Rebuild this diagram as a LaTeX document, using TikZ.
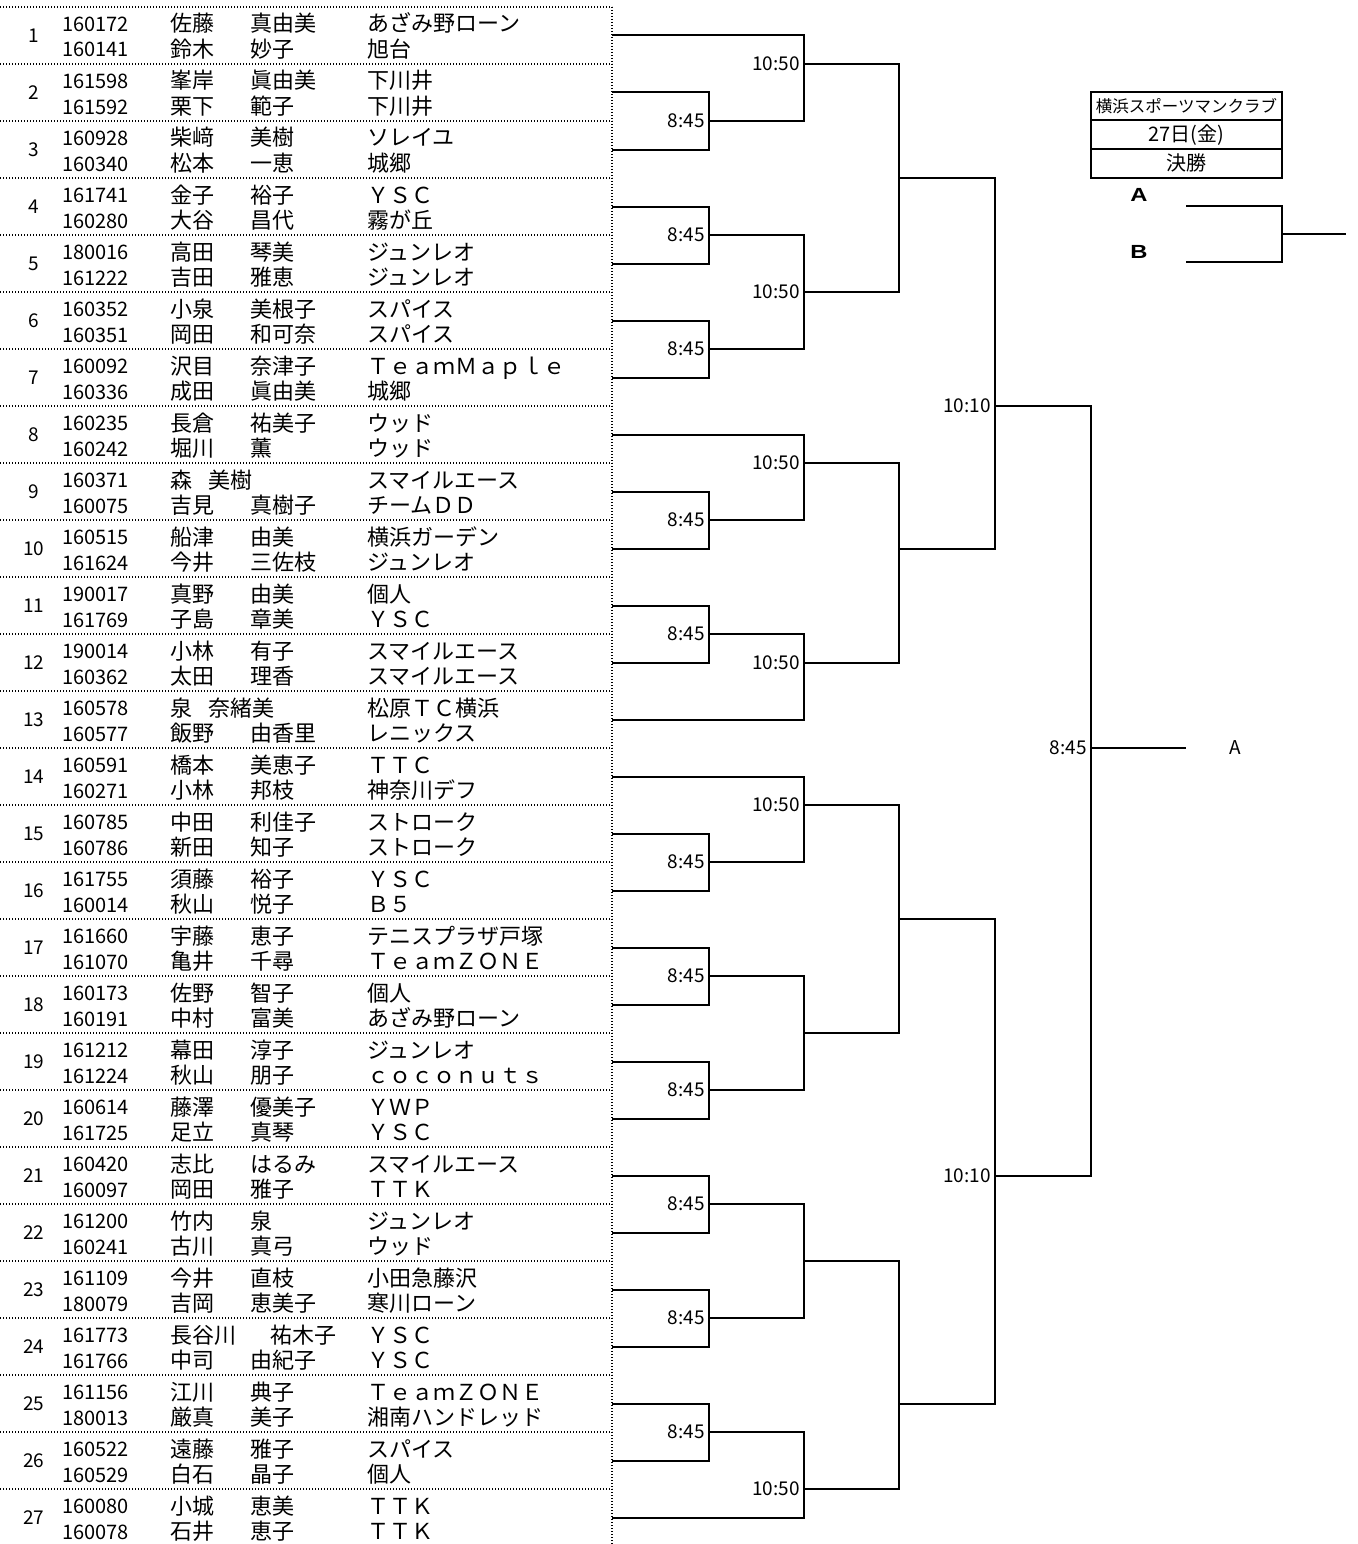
\documentclass[tikz,border=0pt]{standalone}
\usepackage{fontspec}
\setmainfont{Noto Sans CJK JP}
\newfontfamily\lsans{Liberation Sans}
\begin{document}
\begin{tikzpicture}[x=1pt,y=-1pt,
  txt/.style={anchor=base west,inner sep=0pt,font=\fontsize{22}{26}\selectfont},
  idtxt/.style={anchor=base west,inner sep=0pt,font=\fontsize{20}{24}\selectfont},
  numtxt/.style={anchor=center,inner sep=0pt,font=\fontsize{19}{22}\selectfont},
  tm/.style={anchor=east,inner sep=0pt,font=\fontsize{19}{22}\selectfont},
  br/.style={line width=2pt},
  dotline/.style={line width=1.2pt,dash pattern=on 1.2pt off 1.8pt},
  hbox/.style={draw,line width=2pt,minimum width=191pt,minimum height=28.5pt,inner sep=0pt,anchor=center},
  ab/.style={anchor=center,inner sep=0pt,font=\lsans\bfseries\fontsize{19}{22}\selectfont}
]
\useasboundingbox (0,0) rectangle (1357,1544);

% dotted grid
\foreach \j in {0,...,27}{
  \draw[dotline] (0,{7+57*\j}) -- (612,{7+57*\j});
}
\draw[dotline] (612,7) -- (612,1544);

% entries
\foreach \n/\ia/\fa/\ga/\gxa/\ca/\ib/\fb/\gb/\gxb/\cb in {
1/160172/佐藤/真由美/250/あざみ野ローン/160141/鈴木/妙子/250/旭台,
2/161598/峯岸/眞由美/250/下川井/161592/栗下/範子/250/下川井,
3/160928/柴﨑/美樹/250/ソレイユ/160340/松本/一恵/250/城郷,
4/161741/金子/裕子/250/ＹＳＣ/160280/大谷/昌代/250/霧が丘,
5/180016/高田/琴美/250/ジュンレオ/161222/吉田/雅恵/250/ジュンレオ,
6/160352/小泉/美根子/250/スパイス/160351/岡田/和可奈/250/スパイス,
7/160092/沢目/奈津子/250/ＴｅａｍＭａｐｌｅ/160336/成田/眞由美/250/城郷,
8/160235/長倉/祐美子/250/ウッド/160242/堀川/薫/250/ウッド,
9/160371/森/美樹/208/スマイルエース/160075/吉見/真樹子/250/チームＤＤ,
10/160515/船津/由美/250/横浜ガーデン/161624/今井/三佐枝/250/ジュンレオ,
11/190017/真野/由美/250/個人/161769/子島/章美/250/ＹＳＣ,
12/190014/小林/有子/250/スマイルエース/160362/太田/理香/250/スマイルエース,
13/160578/泉/奈緒美/208/松原ＴＣ横浜/160577/飯野/由香里/250/レニックス,
14/160591/橋本/美恵子/250/ＴＴＣ/160271/小林/邦枝/250/神奈川デフ,
15/160785/中田/利佳子/250/ストローク/160786/新田/知子/250/ストローク,
16/161755/須藤/裕子/250/ＹＳＣ/160014/秋山/悦子/250/Ｂ５,
17/161660/宇藤/恵子/250/テニスプラザ戸塚/161070/亀井/千尋/250/ＴｅａｍＺＯＮＥ,
18/160173/佐野/智子/250/個人/160191/中村/富美/250/あざみ野ローン,
19/161212/幕田/淳子/250/ジュンレオ/161224/秋山/朋子/250/ｃｏｃｏｎｕｔｓ,
20/160614/藤澤/優美子/250/ＹＷＰ/161725/足立/真琴/250/ＹＳＣ,
21/160420/志比/はるみ/250/スマイルエース/160097/岡田/雅子/250/ＴＴＫ,
22/161200/竹内/泉/250/ジュンレオ/160241/古川/真弓/250/ウッド,
23/161109/今井/直枝/250/小田急藤沢/180079/吉岡/恵美子/250/寒川ローン,
24/161773/長谷川/祐木子/270/ＹＳＣ/161766/中司/由紀子/250/ＹＳＣ,
25/161156/江川/典子/250/ＴｅａｍＺＯＮＥ/180013/厳真/美子/250/湘南ハンドレッド,
26/160522/遠藤/雅子/250/スパイス/160529/白石/晶子/250/個人,
27/160080/小城/恵美/250/ＴＴＫ/160078/石井/恵子/250/ＴＴＫ}
{
  \pgfmathsetmacro\T{7+(\n-1)*57}
  \node[numtxt] (no\n) at (33.7,{\T+28.5}) {\n};
  \node[idtxt] (ida\n) at (62,{\T+24.5}) {\ia};
  \node[txt] (fa\n) at (170,{\T+25}) {\fa};
  \node[txt] (ga\n) at (\gxa,{\T+25}) {\ga};
  \node[txt] (ca\n) at (367,{\T+25}) {\ca};
  \node[idtxt] (idb\n) at (62,{\T+50}) {\ib};
  \node[txt] (fb\n) at (170,{\T+50.5}) {\fb};
  \node[txt] (gb\n) at (\gxb,{\T+50.5}) {\gb};
  \node[txt] (cb\n) at (367,{\T+50.5}) {\cb};
}

% entry anchors
\foreach \n in {1,...,27} \coordinate (e\n) at (612,{7+(2*\n-1)*28.5});

% round 1
\foreach \a/\b in {2/3,4/5,6/7,9/10,11/12,15/16,17/18,19/20,21/22,23/24,25/26}{
  \coordinate (m\a) at (709,{7+2*\a*28.5});
  \draw[br] (e\a) -| (m\a);
  \draw[br] (e\b) -| (m\a);
  \node[tm] (tm\a) at ([xshift=-4pt]m\a) {8:45};
}

% round 2
\coordinate (r1) at (804,64);
\coordinate (r2) at (804,292);
\coordinate (r3) at (804,463);
\coordinate (r4) at (804,662.5);
\coordinate (r5) at (804,805);
\coordinate (r6) at (804,1033);
\coordinate (r7) at (804,1261);
\coordinate (r8) at (804,1489);
\draw[br] (e1) -| (r1);  \draw[br] (m2) -| (r1);
\draw[br] (m4) -| (r2);  \draw[br] (m6) -| (r2);
\draw[br] (e8) -| (r3);  \draw[br] (m9) -| (r3);
\draw[br] (m11) -| (r4); \draw[br] (e13) -| (r4);
\draw[br] (e14) -| (r5); \draw[br] (m15) -| (r5);
\draw[br] (m17) -| (r6); \draw[br] (m19) -| (r6);
\draw[br] (m21) -| (r7); \draw[br] (m23) -| (r7);
\draw[br] (m25) -| (r8); \draw[br] (e27) -| (r8);
\foreach \r in {1,2,3,4,5,8} \node[tm] (tr\r) at ([xshift=-4pt]r\r) {10:50};

% round 3
\coordinate (s1) at (899,178);
\coordinate (s2) at (899,548.5);
\coordinate (s3) at (899,919);
\coordinate (s4) at (899,1403.5);
\draw[br] (r1) -| (s1); \draw[br] (r2) -| (s1);
\draw[br] (r3) -| (s2); \draw[br] (r4) -| (s2);
\draw[br] (r5) -| (s3); \draw[br] (r6) -| (s3);
\draw[br] (r7) -| (s4); \draw[br] (r8) -| (s4);

% round 4
\coordinate (q1) at (995,406);
\coordinate (q2) at (995,1175.5);
\draw[br] (s1) -| (q1); \draw[br] (s2) -| (q1);
\draw[br] (s3) -| (q2); \draw[br] (s4) -| (q2);
\node[tm] (tq1) at ([xshift=-4pt]q1) {10:10};
\node[tm] (tq2) at ([xshift=-4pt]q2) {10:10};

% round 5
\coordinate (f) at (1091,748);
\coordinate (fe) at (1186,748);
\draw[br] (q1) -| (f); \draw[br] (q2) -| (f);
\draw[br] (f) -- (fe);
\node[tm] (tf) at ([xshift=-4pt]f) {8:45};
\node[numtxt] (wa) at (1235,748) {A};

% final box
\node[hbox,font=\fontsize{16.5}{18}\selectfont] (hb1) at (1186.5,106.25) {横浜スポーツマンクラブ};
\node[hbox,font=\fontsize{20}{22}\selectfont] (hb2) at (1186.5,134.75) {27日(金)};
\node[hbox,font=\fontsize{20}{22}\selectfont] (hb3) at (1186.5,163.25) {決勝};

\node[ab] (la) at (1139,195) {\scalebox{1.25}[1]{A}};
\node[ab] (lb) at (1139,252) {\scalebox{1.25}[1]{B}};
\coordinate (a1) at (1186,206);
\coordinate (b1) at (1186,262);
\coordinate (fin) at (1282,234);
\coordinate (fout) at (1346,234);
\draw[br] (a1) -| (fin); \draw[br] (b1) -| (fin);
\draw[br] (fin) -- (fout);
\end{tikzpicture}
\end{document}
